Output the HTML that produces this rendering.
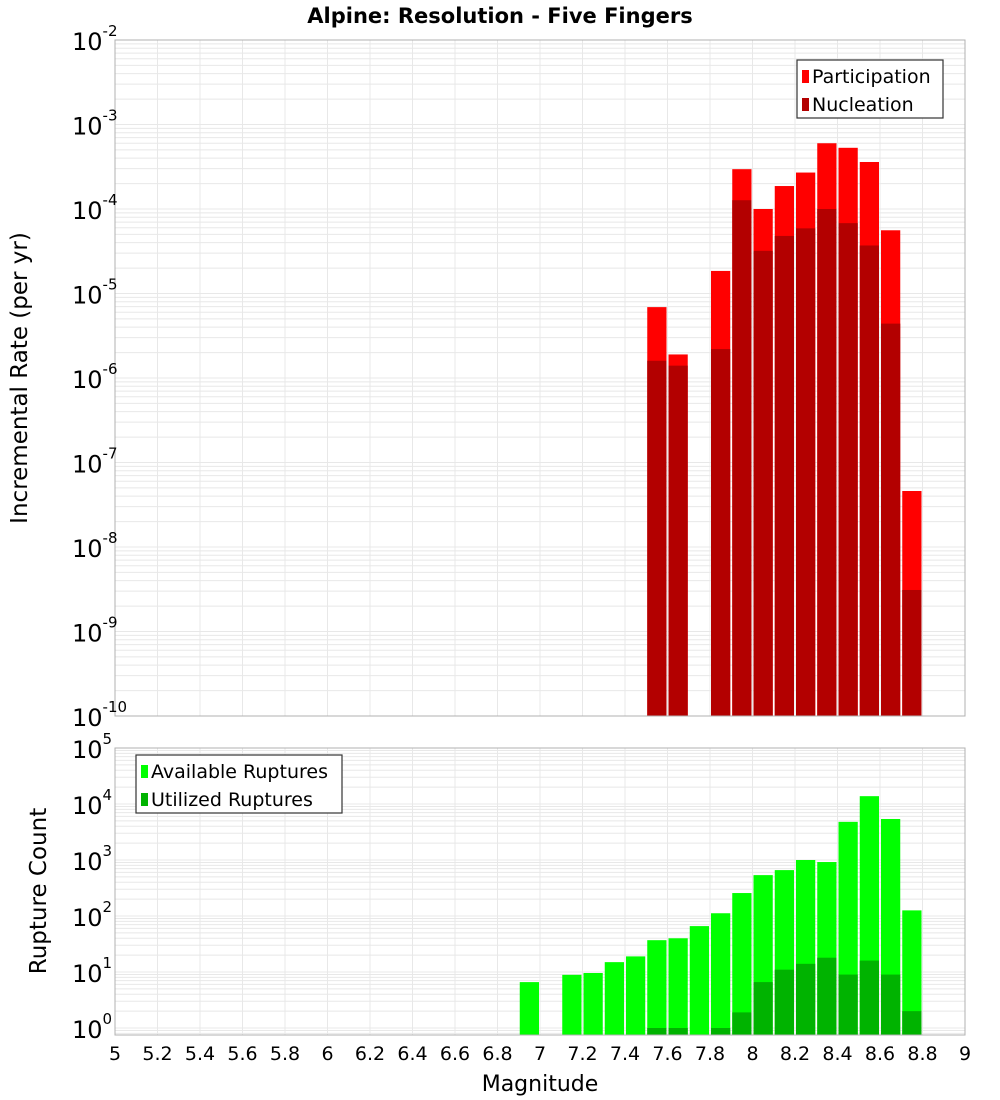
<!DOCTYPE html>
<html><head><meta charset="utf-8"><style>
body{margin:0;background:#fff;font-family:"DejaVu Sans","Liberation Sans",sans-serif;}
svg{display:block}
</style></head><body>
<svg id="c" width="1000" height="1100"></svg>
<script>
const bins=[6.95,7.15,7.25,7.35,7.45,7.55,7.65,7.75,7.85,7.95,8.05,8.15,8.25,8.35,8.45,8.55,8.65,8.75];
const topBins=[7.55,7.65,7.85,7.95,8.05,8.15,8.25,8.35,8.45,8.55,8.65,8.75];
const participation=[6.9e-6,1.9e-6,1.85e-5,2.96e-4,1.0e-4,1.87e-4,2.7e-4,6.0e-4,5.3e-4,3.6e-4,5.6e-5,4.6e-8];
const nucleation=[1.6e-6,1.4e-6,2.2e-6,1.27e-4,3.2e-5,4.8e-5,5.9e-5,1.0e-4,6.8e-5,3.7e-5,4.4e-6,3.1e-9];
const available=[6.6,8.9,9.6,15,19,37,40,66,112,257,537,660,1000,920,4800,13800,5400,126];
const utilized=[0,0,0,0,0,1,1,0,1,1.9,6.6,11,14,18,9,16,9,2];
const xTicks=[5,5.2,5.4,5.6,5.8,6,6.2,6.4,6.6,6.8,7,7.2,7.4,7.6,7.8,8,8.2,8.4,8.6,8.8,9];
const topExp=[-10,-9,-8,-7,-6,-5,-4,-3,-2];
const botExp=[0,1,2,3,4,5];

const NS="http://www.w3.org/2000/svg";
const svg=document.getElementById('c');
function el(t,a,p){const e=document.createElementNS(NS,t);for(const k in a)e.setAttribute(k,a[k]);(p||svg).appendChild(e);return e;}
const L=115,R=965;
const x=v=>L+(v-5)/4*(R-L);
const T1=40,B1=716;
const y1=v=>B1-(Math.log10(v)+10)*(B1-T1)/8;
const T2=748,B2=1035,dec2=56;
const y2=v=>1028-Math.log10(v)*dec2;

function grid(top,bot,exps,yf){
  const g=el('g',{});
  
  
  for(let i=0;i<exps.length;i++){
    const e=exps[i];
    for(let m=1;m<10;m++){const v=m*Math.pow(10,e);const yy=yf(v);if(yy<top||yy>bot)continue;
      el('line',{x1:L,x2:R,y1:yy,y2:yy,stroke:'#e8e8e8','stroke-width':1},g);}
  }
  for(let e=exps[0]-1;e<exps[0];e++)for(let m=1;m<10;m++){const yy=yf(m*Math.pow(10,e));if(yy>=top&&yy<=bot)el('line',{x1:L,x2:R,y1:yy,y2:yy,stroke:'#e8e8e8'},g);}
  xTicks.forEach(t=>el('line',{x1:x(t),x2:x(t),y1:top,y2:bot,stroke:'#e8e8e8'},g));
}
grid(T1,B1,topExp,y1);
grid(T2,B2,botExp,y2);

function bars(binsA,vals,base,yf,color,name){
  vals.forEach((v,i)=>{if(v<=0)return;const c=binsA[i];
    const r=el('rect',{x:x(c-0.05)+1,width:x(c+0.05)-x(c-0.05)-2,y:yf(v),height:base-yf(v),fill:color});
    
    });
}
bars(topBins,participation,B1,y1,'#ff0000','participation-bar');
bars(topBins,nucleation,B1,y1,'#b30000','nucleation-bar');
bars(bins,available,B2,y2,'#00ff00','available-bar');
bars(bins,utilized,B2,y2,'#00b300','utilized-bar');

el('rect',{x:L,y:T1,width:R-L,height:B1-T1,fill:'none',stroke:'#b0b0b0'});
el('rect',{x:L,y:T2,width:R-L,height:B2-T2,fill:'none',stroke:'#b0b0b0'});

function txt(s,a,name){const t=el('text',a);t.textContent=s;return t;}
topExp.forEach(e=>{const yy=y1(Math.pow(10,e));const t=txt('10',{x:72,y:yy+10,'font-size':24,fill:'#000'},'y-tick-label');
  const s=el('tspan',{dy:-14,'font-size':15},t);s.textContent=String(e);});
botExp.forEach(e=>{const yy=y2(Math.pow(10,e));const t=txt('10',{x:72,y:yy+10,'font-size':24,fill:'#000'},'y2-tick-label');
  const s=el('tspan',{dy:-14,'font-size':15},t);s.textContent=String(e);});
xTicks.forEach(t=>txt(String(t),{x:x(t),y:1060,'font-size':19,'text-anchor':'middle'},'x-tick-label'));

txt('Alpine: Resolution - Five Fingers',{x:500,y:23,'font-size':21,'font-weight':'bold','text-anchor':'middle'},'chart-title');
txt('Magnitude',{x:540,y:1091,'font-size':22,'text-anchor':'middle'},'x-axis-title');
txt('Incremental Rate (per yr)',{x:0,y:0,'font-size':23,'text-anchor':'middle',transform:'translate(27,378) rotate(-90)'},'y-axis-title');
txt('Rupture Count',{x:0,y:0,'font-size':23,'text-anchor':'middle',transform:'translate(46,891) rotate(-90)'},'y2-axis-title');

function legend(lx,ly,w,items,name){
  const g=el('g',{});
  el('rect',{x:lx,y:ly,width:w,height:58,fill:'#fff',stroke:'#333','stroke-width':1.2},g);
  items.forEach((it,i)=>{el('rect',{x:lx+5,y:ly+10+i*28,width:7,height:13,fill:it[1]},g);
    const t=el('text',{x:lx+15,y:ly+23+i*28,'font-size':19},g);t.textContent=it[0];});
}
legend(797,60,146,[['Participation','#ff0000'],['Nucleation','#b30000']],'legend-top');
legend(136,755,206,[['Available Ruptures','#00ff00'],['Utilized Ruptures','#00b300']],'legend-bottom');
</script>
</body></html>
